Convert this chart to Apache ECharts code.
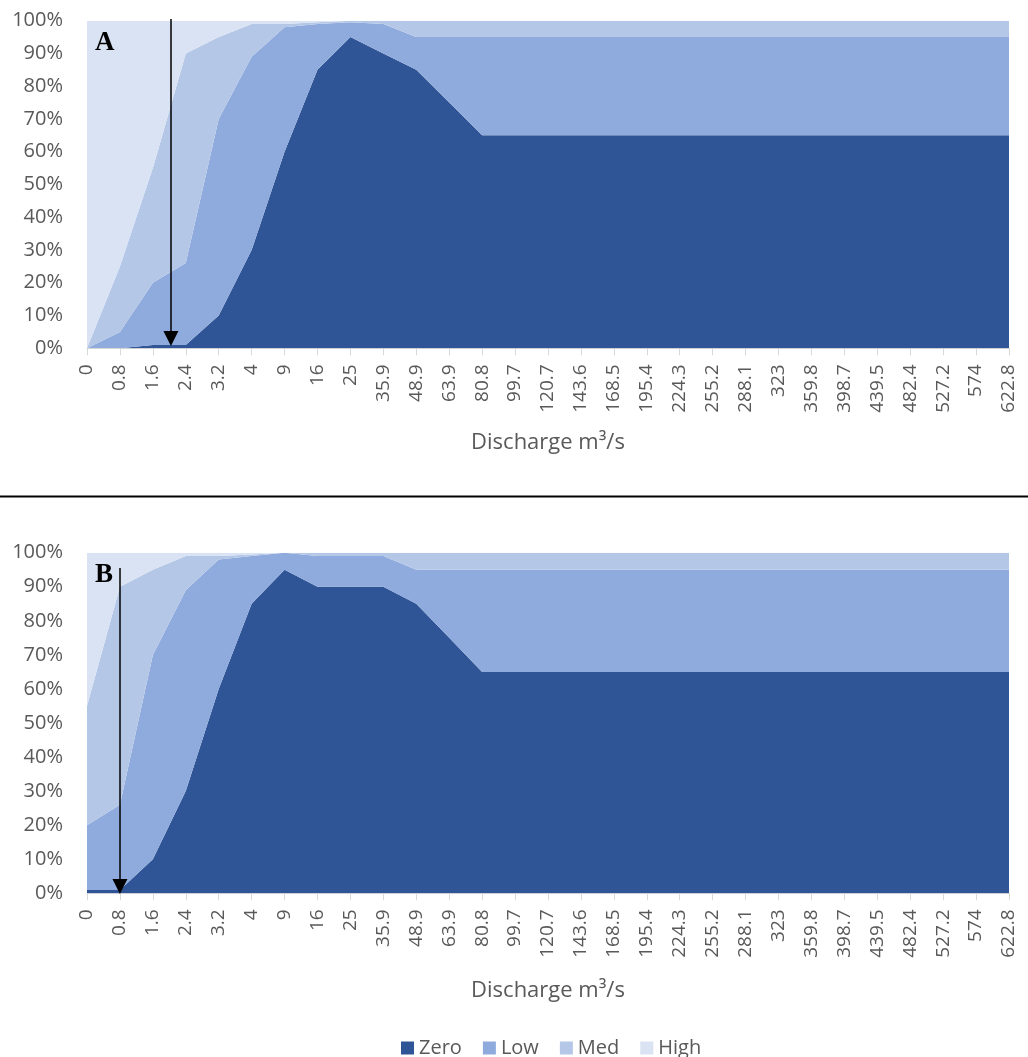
<!DOCTYPE html>
<html><head><meta charset="utf-8">
<script src="https://cdn.jsdelivr.net/npm/echarts@6/dist/echarts.min.js"></script>
<style>html,body{margin:0;padding:0;background:#fff}#c{width:1028px;height:1057px}</style>
</head><body><div id="c"></div>
<script>
const categories = ['0','0.8','1.6','2.4','3.2','4','9','16','25','35.9','48.9','63.9','80.8','99.7','120.7','143.6','168.5','195.4','224.3','255.2','288.1','323','359.8','398.7','439.5','482.4','527.2','574','622.8'];
const seriesNames = ['Zero','Low','Med','High'];

// Panel A (percent of each class)
const zeroA = [0,0,1,1,10,30,60,85,95,90,85,75,65,65,65,65,65,65,65,65,65,65,65,65,65,65,65,65,65];
const lowA  = [0,5,19,25,60,59,38,14,4.5,9,10,20,30,30,30,30,30,30,30,30,30,30,30,30,30,30,30,30,30];
const medA  = [0,20,35,64,25,10,1,0.5,0.5,1,5,5,5,5,5,5,5,5,5,5,5,5,5,5,5,5,5,5,5];
const highA = [100,75,45,10,5,1,1,0.5,0,0,0,0,0,0,0,0,0,0,0,0,0,0,0,0,0,0,0,0,0];

// Panel B
const zeroB = [1,1,10,30,60,85,95,90,90,90,85,75,65,65,65,65,65,65,65,65,65,65,65,65,65,65,65,65,65];
const lowB  = [19,25,60,59,38,14,5,9,9,9,10,20,30,30,30,30,30,30,30,30,30,30,30,30,30,30,30,30,30];
const medB  = [35,64,25,10,1,0.5,0,1,1,1,5,5,5,5,5,5,5,5,5,5,5,5,5,5,5,5,5,5,5];
const highB = [45,10,5,1,1,0.5,0,0,0,0,0,0,0,0,0,0,0,0,0,0,0,0,0,0,0,0,0,0,0];

// Arrow annotations: [category index position, top %, arrow-head centre %]
const arrowA = [2.55, 100.5, 3.0];
const arrowB = [1, 95.5, 2.0];

const colors = ['#2F5597','#8FAADC','#B4C7E7','#DAE3F3'];
const FONT = '"Open Sans", "Noto Sans", sans-serif';
const panels = [[zeroA, lowA, medA, highA],[zeroB, lowB, medB, highB]];
const arrows = [arrowA, arrowB];
const nameGaps = [83, 86];

const chart = echarts.init(document.getElementById('c'));

const grids = [
  {left: 87, right: 19, top: 20.7, height: 327.6, containLabel:false, outerBoundsMode:'none'},
  {left: 87, right: 19, top: 552.7, height: 340.6, containLabel:false, outerBoundsMode:'none'}
];

const xAxes = [];
[0,1].forEach(g => xAxes.push({
  type:'category', gridIndex:g, data:categories, boundaryGap:false,
  axisLine:{show:true, lineStyle:{color:'#D9D9D9', width:1}},
  axisTick:{show:true, interval:0, length:7, lineStyle:{color:'#D9D9D9'}},
  axisLabel:{interval:0, rotate:90, margin:16, color:'#595959', fontFamily:FONT, fontSize:19},
  splitLine:{show:false},
  name:'Discharge m³/s', nameLocation:'middle', nameGap:nameGaps[g],
  nameTextStyle:{color:'#595959', fontFamily:FONT, fontSize:22}
}));
[0,1].forEach(g => xAxes.push({type:'value', gridIndex:g, min:0, max:categories.length-1, show:false}));

const yAxes = [0,1].map(g => ({
  type:'value', gridIndex:g, min:0, max:100, interval:10,
  axisLabel:{formatter:'{value}%', margin:24, color:'#595959', fontFamily:FONT, fontSize:20},
  axisLine:{show:false}, axisTick:{show:false}, splitLine:{show:false}
}));

const series = [];
panels.forEach((p, g) => {
  p.forEach((vals, i) => {
    series.push({
      type:'line', name:seriesNames[i], xAxisIndex:g, yAxisIndex:g, stack:'s'+g,
      data:vals, symbol:'none', showSymbol:false,
      lineStyle:{width:0}, areaStyle:{color:colors[i], opacity:1},
      itemStyle:{color:colors[i]}, emphasis:{disabled:true}, silent:true, z:2
    });
  });
  const a = arrows[g];
  series.push({
    type:'lines', coordinateSystem:'cartesian2d', xAxisIndex:2+g, yAxisIndex:g,
    symbol:['none','triangle'], symbolSize:15, clip:false, silent:true, z:10,
    lineStyle:{color:'#000', width:1.5, opacity:1, curveness:0},
    data:[{coords:[[a[0], a[1]],[a[0], a[2]]]}]
  });
});

chart.setOption({
  animation:false,
  backgroundColor:'#fff',
  grid:grids,
  xAxis:xAxes,
  yAxis:yAxes,
  legend:{data:seriesNames, left:396, top:1033, icon:'rect', itemWidth:13, itemHeight:13, itemGap:21,
    textStyle:{color:'#595959', fontFamily:FONT, fontSize:20}},
  series:series,
  graphic:[
    {type:'line', shape:{x1:0, y1:496.5, x2:1028, y2:496.5}, style:{stroke:'#000', lineWidth:2}, z:100},
    {type:'text', left:95, top:30, style:{text:'A', font:'bold 27px "Liberation Serif", "DejaVu Serif", serif', fill:'#000'}, z:100},
    {type:'text', left:95, top:562, style:{text:'B', font:'bold 27px "Liberation Serif", "DejaVu Serif", serif', fill:'#000'}, z:100}
  ]
});
</script></body></html>
